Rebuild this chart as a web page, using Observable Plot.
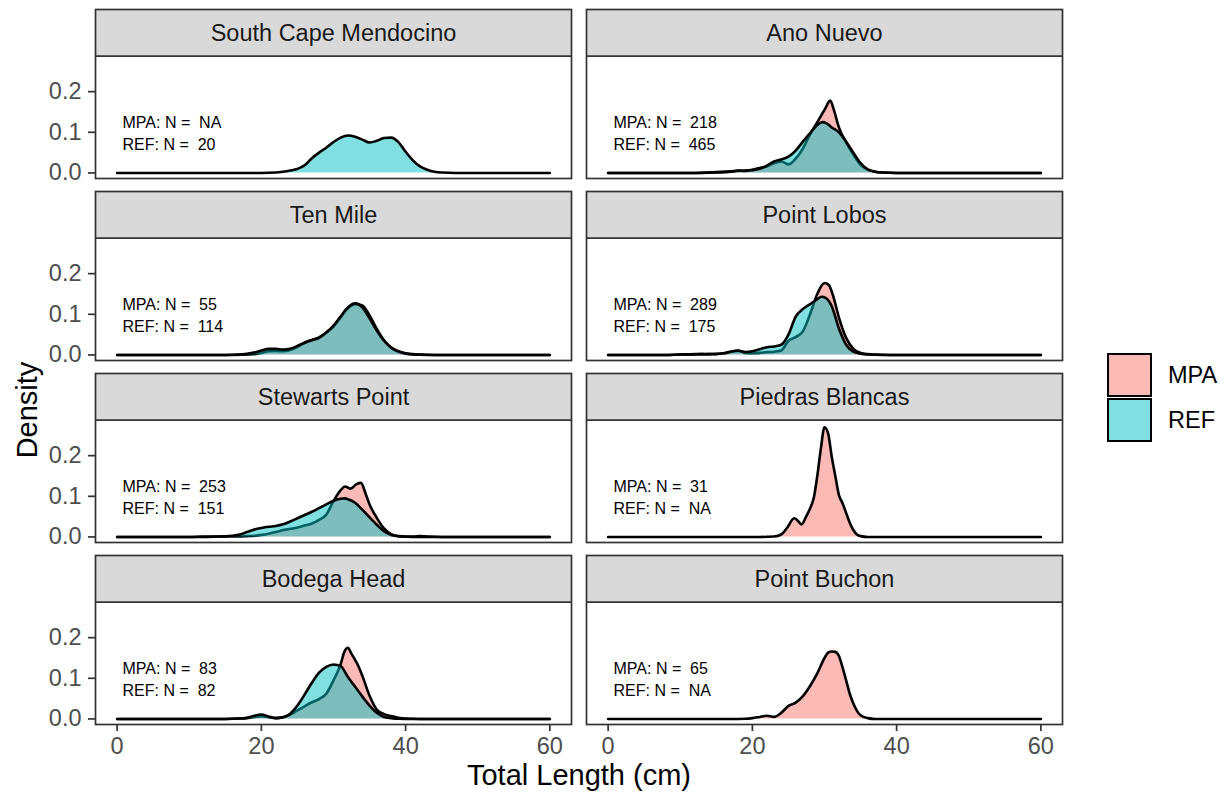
<!DOCTYPE html>
<html>
<head>
<meta charset="utf-8">
<script src="https://cdn.jsdelivr.net/npm/d3@7"></script>
<script src="https://cdn.jsdelivr.net/npm/@observablehq/plot@0.6"></script>
<style>
  body { margin: 0; background: #fff; }
  #wrap { position: relative; width: 1224px; height: 797px; font-family: "Liberation Sans", Arial, Helvetica, sans-serif; }
  #wrap svg text { white-space: pre; }
  .key { position: absolute; left: 1107px; width: 45px; height: 44px; box-sizing: border-box; border: 2.2px solid #000; }
  .klab { position: absolute; left: 1168px; height: 44px; line-height: 44px; font-size: 23.5px; color: #000; }
  .ytitle { position: absolute; left: 27px; top: 410px; transform: translate(-50%, -50%) rotate(-90deg);
            font-size: 29px; color: #000; white-space: nowrap; line-height: 1; }
</style>
</head>
<body>
<div id="wrap"></div>
<script>
// ---- Data ----
const sites = ["South Cape Mendocino", "Ano Nuevo", "Ten Mile", "Point Lobos",
               "Stewarts Point", "Piedras Blancas", "Bodega Head", "Point Buchon"];
const groups = ["MPA", "REF"];
const nMPA = ["NA", "218", "55", "289", "253", "31", "83", "65"];
const nREF = ["20", "465", "114", "175", "151", "NA", "82", "NA"];
const xTicks = [0, 20, 40, 60];
const yTicks = [0, 0.1, 0.2];

// density curves: [total length (cm), density]
const scmREF = [[0,0],[20,0],[22,0.001],[23,0.003],[24,0.006],[25,0.01],[26,0.019],[27,0.036],[28,0.05],[29,0.062],[30,0.076],[31,0.087],[32,0.092],[33,0.089],[34,0.082],[35,0.075],[36,0.079],[37,0.086],[38,0.087],[39,0.076],[40,0.052],[41,0.031],[42,0.016],[43,0.008],[44,0.003],[45,0.001],[47,0],[60,0]];

const anMPA = [[0,0],[12,0],[15,0.002],[17,0.004],[18,0.005],[19,0.006],[20,0.008],[21,0.012],[22,0.016],[23,0.024],[24,0.028],[25,0.021],[26,0.035],[27,0.06],[28,0.095],[29,0.125],[30,0.155],[30.8,0.178],[31.3,0.155],[32,0.112],[33,0.075],[34,0.045],[35,0.02],[36,0.008],[37,0.003],[38,0.001],[40,0],[60,0]];
const anREF = [[0,0],[12,0],[15,0.001],[17,0.003],[18,0.006],[19,0.005],[20,0.007],[21,0.01],[22,0.018],[23,0.028],[24,0.033],[25,0.04],[26,0.055],[27,0.077],[28,0.098],[29,0.118],[29.7,0.125],[30.3,0.122],[31,0.112],[32,0.1],[33,0.077],[34,0.05],[35,0.024],[36,0.009],[37,0.003],[38,0.001],[40,0],[60,0]];

const tmMPA = [[0,0],[16,0],[19,0.002],[20,0.005],[21,0.009],[22,0.01],[23,0.009],[24,0.012],[25,0.02],[26,0.03],[27,0.037],[28,0.043],[29,0.055],[30,0.07],[31,0.093],[32,0.115],[33,0.125],[34,0.122],[35,0.097],[36,0.064],[37,0.036],[38,0.018],[39,0.008],[40,0.003],[41,0.001],[43,0],[60,0]];
const tmREF = [[0,0],[15,0],[17,0.001],[18,0.003],[19,0.006],[20,0.011],[21,0.015],[22,0.015],[23,0.013],[24,0.015],[25,0.022],[26,0.03],[27,0.036],[28,0.042],[29,0.055],[30,0.072],[31,0.095],[32,0.117],[33,0.127],[34,0.117],[35,0.09],[36,0.06],[37,0.035],[38,0.018],[39,0.009],[40,0.004],[41,0.002],[42,0.001],[44,0],[60,0]];

const plMPA = [[0,0],[8,0],[10,0.001],[12,0.002],[13,0.003],[14,0.002],[15,0.002],[16,0.004],[17,0.008],[18,0.01],[19,0.005],[20,0.004],[21,0.005],[22,0.007],[23,0.008],[24,0.011],[25,0.035],[26,0.044],[27,0.058],[28,0.1],[29,0.15],[30,0.177],[30.6,0.172],[31.2,0.145],[32,0.092],[33,0.042],[34,0.015],[35,0.005],[36,0.002],[37,0.001],[39,0],[60,0]];
const plREF = [[0,0],[8,0],[10,0.001],[12,0.001],[14,0.002],[16,0.004],[17,0.008],[18,0.011],[19,0.007],[20,0.009],[21,0.014],[22,0.019],[23,0.021],[24,0.025],[25,0.05],[26,0.094],[27,0.113],[28,0.125],[29,0.137],[29.6,0.143],[30.2,0.14],[31,0.12],[32,0.065],[33,0.025],[34,0.008],[35,0.003],[36,0.001],[38,0],[60,0]];

const spMPA = [[0,0],[10,0],[12,0.001],[14,0.001],[17,0.001],[18,0.002],[19,0.003],[20,0.005],[21,0.008],[22,0.012],[23,0.017],[24,0.02],[25,0.023],[26,0.028],[27,0.033],[28,0.042],[29,0.055],[30,0.088],[31,0.115],[31.6,0.124],[32.4,0.119],[33.2,0.13],[33.8,0.133],[34.5,0.104],[35,0.08],[36,0.047],[37,0.021],[38,0.007],[39,0.002],[40,0.001],[41,0.001],[42,0.002],[43,0.001],[45,0],[60,0]];
const spREF = [[0,0],[12,0],[14,0.001],[15,0.0015],[16,0.003],[17,0.006],[18,0.012],[19,0.018],[20,0.022],[21,0.025],[22,0.027],[23,0.031],[24,0.038],[25,0.046],[26,0.054],[27,0.062],[28,0.071],[29,0.08],[30,0.089],[31,0.094],[31.5,0.095],[32,0.093],[33,0.084],[34,0.067],[35,0.048],[36,0.03],[37,0.014],[38,0.005],[39,0.0015],[40,0.0005],[42,0],[60,0]];

const pbMPA = [[0,0],[21,0],[23,0.001],[24,0.006],[24.8,0.022],[25.8,0.046],[26.3,0.04],[26.8,0.031],[27.5,0.052],[28,0.07],[28.5,0.095],[29,0.15],[29.5,0.218],[30,0.27],[30.5,0.255],[31,0.198],[31.5,0.15],[32,0.103],[32.5,0.083],[33,0.059],[33.5,0.035],[34,0.017],[34.5,0.006],[35,0.002],[36,0],[60,0]];

const bhMPA = [[0,0],[15,0],[17,0.001],[18,0.002],[19,0.005],[20,0.007],[21,0.004],[22,0.002],[23,0.004],[24,0.011],[25,0.021],[26,0.031],[27,0.041],[28,0.049],[29,0.062],[30,0.095],[31,0.135],[31.5,0.165],[32,0.175],[32.5,0.16],[33,0.145],[33.5,0.128],[34,0.106],[35,0.057],[36,0.023],[37,0.012],[38,0.007],[39,0.003],[40,0.001],[42,0],[60,0]];
const bhREF = [[0,0],[15,0],[17,0.001],[18,0.003],[19,0.008],[20,0.011],[21,0.006],[22,0.002],[23,0.004],[24,0.013],[25,0.033],[26,0.06],[27,0.089],[28,0.114],[29,0.128],[30,0.134],[31,0.13],[32,0.103],[33,0.079],[34,0.055],[35,0.033],[36,0.015],[37,0.005],[38,0.002],[39,0.0005],[41,0],[60,0]];

const pbuMPA = [[0,0],[17,0],[19,0.0005],[20,0.002],[21,0.005],[22,0.008],[23,0.005],[24,0.015],[25,0.032],[26,0.04],[27,0.056],[28,0.081],[29,0.112],[30,0.15],[30.5,0.163],[31,0.166],[31.5,0.165],[32,0.155],[32.5,0.127],[33,0.095],[33.5,0.062],[34,0.038],[34.5,0.02],[35,0.009],[36,0.002],[37,0],[60,0]];

const mpaCurves = [null, anMPA, tmMPA, plMPA, spMPA, pbMPA, bhMPA, pbuMPA];
const refCurves = [scmREF, anREF, tmREF, plREF, spREF, null, bhREF, null];

// ---- Tables built from the arrays ----
function rowsFor(curves, group) {
  const out = [];
  curves.forEach((c, i) => {
    if (!c) return;
    for (const [x, d] of c) out.push({site: sites[i], col: i % 2, row: Math.floor(i / 2), group, x, d});
  });
  return out;
}
const mpaRows = rowsFor(mpaCurves, "MPA");
const refRows = rowsFor(refCurves, "REF");
const facets = sites.map((s, i) => ({
  site: s, col: i % 2, row: Math.floor(i / 2),
  label: `MPA: N =  ${nMPA[i]}\nREF: N =  ${nREF[i]}`
}));

// ---- Layout ----
const fillColors = ["#F8766D", "#00BFC4"];
const yMax = 0.2735;                 // largest density drawn
const yLo = -0.05 * yMax, yPanelTop = 1.05 * yMax;
const panelH = 123, stripH = 47;
const yTop = yPanelTop + stripH / panelH * (yPanelTop - yLo);
const colGap = 15, colW = 476, rowGap = 12.67, rowH = 170;
const ink = "#333333";

const common = {fx: "col", fy: "row", x: "x", y: "d", curve: "monotone-x"};

const chart = Plot.plot({
  width: 1224, height: 797,
  marginLeft: 95, marginRight: 162, marginTop: 8, marginBottom: 71,
  style: {fontFamily: '"Liberation Sans", Arial, Helvetica, sans-serif', background: "white", overflow: "visible"},
  x: {domain: [-3, 63]},
  y: {domain: [yLo, yTop]},
  fx: {domain: [0, 1], paddingInner: colGap / (colW + colGap), paddingOuter: 0, axis: null},
  fy: {domain: [0, 1, 2, 3], paddingInner: rowGap / (rowH + rowGap), paddingOuter: 0, axis: null},
  color: {domain: groups, range: fillColors},
  marks: [
    Plot.rect([0], {y1: yPanelTop, y2: yTop, fill: "#D9D9D9"}),
    Plot.areaY(mpaRows, {...common, fill: "group", fillOpacity: 0.5}),
    Plot.lineY(mpaRows, {...common, stroke: "black", strokeWidth: 2.6}),
    Plot.areaY(refRows, {...common, fill: "group", fillOpacity: 0.5}),
    Plot.lineY(refRows, {...common, stroke: "black", strokeWidth: 2.6}),
    Plot.ruleY([yPanelTop], {stroke: ink, strokeWidth: 1.7}),
    Plot.frame({stroke: ink, strokeWidth: 1.7}),
    Plot.text(facets, {fx: "col", fy: "row", text: "site", frameAnchor: "top", dy: stripH / 2,
      lineAnchor: "middle", fontSize: 23.5, fill: "#1A1A1A"}),
    Plot.text(facets, {fx: "col", fy: "row", text: "label", frameAnchor: "left", dx: 27, y: 0.1,
      textAnchor: "start", lineAnchor: "middle", lineHeight: 1.35, fontSize: 16, fill: "black"}),
    Plot.axisX({ticks: xTicks, tickSize: 7, tickPadding: 6, fontSize: 23.5, fill: "#4D4D4D",
      stroke: ink, strokeWidth: 1.7, label: null}),
    Plot.axisY({ticks: yTicks, tickFormat: d3.format(".1f"), tickSize: 7, tickPadding: 7, fontSize: 23.5,
      fill: "#4D4D4D", stroke: ink, strokeWidth: 1.7, label: null}),
    Plot.text(["Total Length (cm)"], {facet: "super", frameAnchor: "bottom", dy: 60, lineAnchor: "bottom",
      fontSize: 29, fill: "black"})
  ]
});

const wrap = document.getElementById("wrap");
wrap.appendChild(chart);

// ---- Y axis title ----
const yt = document.createElement("div");
yt.className = "ytitle";
yt.textContent = "Density";
wrap.appendChild(yt);

// ---- Legend ----
groups.forEach((g, i) => {
  const c = d3.color(fillColors[i]); c.opacity = 0.5;
  const top = 353 + i * 45;
  const key = document.createElement("div");
  key.className = "key";
  key.style.top = top + "px";
  key.style.background = c.formatRgb();
  wrap.appendChild(key);
  const lab = document.createElement("div");
  lab.className = "klab";
  lab.style.top = top + "px";
  lab.textContent = g;
  wrap.appendChild(lab);
});
</script>
</body>
</html>
